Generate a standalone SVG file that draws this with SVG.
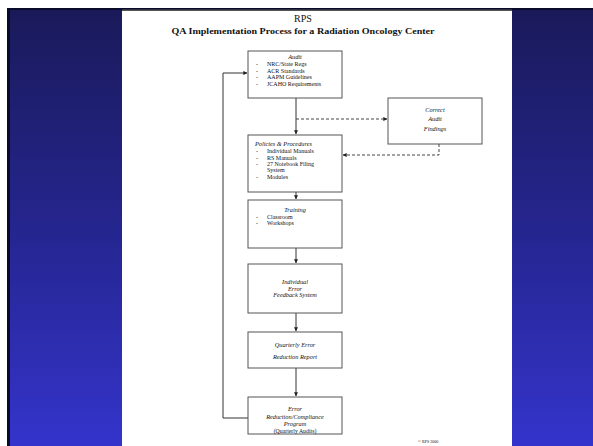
<svg xmlns="http://www.w3.org/2000/svg" width="593" height="446" viewBox="0 0 593 446">
<defs>
<linearGradient id="bg" x1="0" y1="0" x2="0" y2="1">
<stop offset="0" stop-color="#1a1a5a"/>
<stop offset="0.5" stop-color="#25258f"/>
<stop offset="1" stop-color="#3434cc"/>
</linearGradient>
<marker id="ah" viewBox="0 0 6 6" refX="5.5" refY="3" markerWidth="4" markerHeight="4" orient="auto" markerUnits="userSpaceOnUse">
<path d="M0,0 L6,3 L0,6 z" fill="#222"/>
</marker>
<style>
.box{fill:#fff;stroke:#555;stroke-width:1}
.t{font-family:"Liberation Serif",serif;fill:#111}
.it{font-style:italic;font-size:6.3px;text-anchor:middle}
.li{font-size:6px}
.ln{fill:none;stroke:#333;stroke-width:1}
.dl{fill:none;stroke:#444;stroke-width:1;stroke-dasharray:3,2}
</style>
</defs>
<rect x="0" y="0" width="593" height="446" fill="#fff"/>
<rect x="7" y="8" width="586" height="438" fill="#0a0a2a"/>
<rect x="10" y="10" width="112" height="436" fill="url(#bg)"/>
<rect x="512" y="10" width="81" height="436" fill="url(#bg)"/>
<rect x="122" y="10" width="390" height="436" fill="#fff"/>
<rect x="122" y="9.5" width="390" height="1.5" fill="#555"/>

<g id="title">
<text class="t" x="303" y="22" font-size="10" text-anchor="middle">RPS</text>
<text class="t" x="303" y="34" font-size="8.5" font-weight="bold" text-anchor="middle" textLength="263" lengthAdjust="spacingAndGlyphs">QA Implementation Process for a Radiation Oncology Center</text>
</g>

<g id="connectors">
<line class="ln" x1="296" y1="98" x2="296" y2="134" marker-end="url(#ah)"/>
<line class="dl" x1="296" y1="119" x2="387" y2="119" marker-end="url(#ah)"/>
<polyline class="dl" points="439,144 439,155 343,155" marker-end="url(#ah)"/>
<line class="ln" x1="296" y1="192" x2="296" y2="199" marker-end="url(#ah)"/>
<line class="ln" x1="296" y1="248" x2="296" y2="263" marker-end="url(#ah)"/>
<line class="ln" x1="296" y1="313" x2="296" y2="331" marker-end="url(#ah)"/>
<line class="ln" x1="296" y1="368" x2="296" y2="396" marker-end="url(#ah)"/>
<polyline class="ln" points="248,418 223,418 223,73 247,73" marker-end="url(#ah)"/>
</g>

<g id="audit">
<rect class="box" x="248" y="51" width="94" height="47"/>
<text class="t it" x="295" y="59">Audit</text>
<text class="t li" x="256" y="66">-</text><text class="t li" x="267" y="66">NRC/State Regs</text>
<text class="t li" x="256" y="72.5">-</text><text class="t li" x="267" y="72.5">ACR Standards</text>
<text class="t li" x="256" y="79">-</text><text class="t li" x="267" y="79">AAPM Guidelines</text>
<text class="t li" x="256" y="86">-</text><text class="t li" x="267" y="86">JCAHO Requirements</text>
</g>

<g id="correct">
<rect class="box" x="388" y="98" width="94" height="46"/>
<text class="t it" x="435" y="112">Correct</text>
<text class="t it" x="435" y="121">Audit</text>
<text class="t it" x="435" y="131">Findings</text>
</g>

<g id="policies">
<rect class="box" x="248" y="135" width="94" height="57"/>
<text class="t" x="255" y="146" font-size="6.3" font-style="italic">Policies &amp; Procedures</text>
<text class="t li" x="256" y="153">-</text><text class="t li" x="267" y="153">Individual Manuals</text>
<text class="t li" x="256" y="159.5">-</text><text class="t li" x="267" y="159.5">RS Manuals</text>
<text class="t li" x="256" y="166">-</text><text class="t li" x="267" y="166">27 Notebook Filing</text>
<text class="t li" x="267" y="172">System</text>
<text class="t li" x="256" y="179">-</text><text class="t li" x="267" y="179">Modules</text>
</g>

<g id="training">
<rect class="box" x="248" y="200" width="94" height="48"/>
<text class="t it" x="295" y="212">Training</text>
<text class="t li" x="256" y="219">-</text><text class="t li" x="267" y="219">Classroom</text>
<text class="t li" x="256" y="225">-</text><text class="t li" x="267" y="225">Workshops</text>
</g>

<g id="feedback">
<rect class="box" x="248" y="264" width="94" height="49"/>
<text class="t it" x="295" y="284">Individual</text>
<text class="t it" x="295" y="290.5">Error</text>
<text class="t it" x="295" y="297">Feedback System</text>
</g>

<g id="quarterly">
<rect class="box" x="248" y="332" width="94" height="36"/>
<text class="t it" x="295" y="347">Quarterly Error</text>
<text class="t it" x="295" y="359">Reduction Report</text>
</g>

<g id="program">
<rect class="box" x="248" y="397" width="94" height="37"/>
<text class="t it" x="295" y="411">Error</text>
<text class="t it" x="295" y="419">Reduction/Compliance</text>
<text class="t it" x="295" y="426">Program</text>
<text class="t" x="295" y="432.5" font-size="5.8" text-anchor="middle">(Quarterly Audits)</text>
</g>

<text class="t" x="418" y="443" font-size="4">© RPS 2000</text>
</svg>
